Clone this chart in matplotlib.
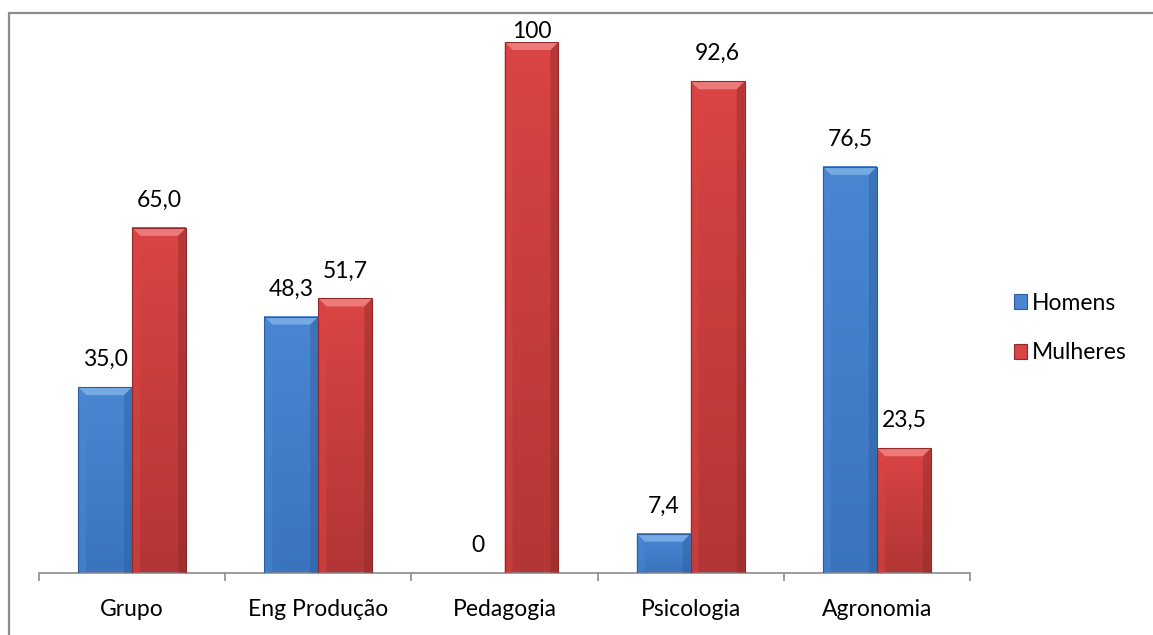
import matplotlib
matplotlib.use('Agg')
import matplotlib.pyplot as plt
from matplotlib.patches import Rectangle, Polygon, Patch
from matplotlib.colors import LinearSegmentedColormap
import numpy as np

plt.rcParams['font.family'] = ['Lato', 'DejaVu Sans']

cursos = ['Grupo', 'Eng Produção', 'Pedagogia', 'Psicologia', 'Agronomia']
homens = [35.0, 48.3, 0, 7.4, 76.5]
mulheres = [65.0, 51.7, 100, 92.6, 23.5]
series_names = ['Homens', 'Mulheres']

# (top / light, bottom / dark, bevel light, bevel dark)
palette = {
    'Homens': ('#4A86D2', '#3A74BE', '#80B0E8', '#2C5E9E'),
    'Mulheres': ('#DA4444', '#B23635', '#F08482', '#8E2A29'),
}

W, H = 1153, 635
fig = plt.figure(figsize=(W / 100, H / 100), dpi=100)
fig.patch.set_facecolor('white')
ax = fig.add_axes([39 / W, 1 - 573 / H, (970 - 39) / W, (573 - 42) / H])
ax.set_xlim(-0.5, len(cursos) - 0.5)
ax.set_ylim(0, 100)
ax.patch.set_alpha(0)

bar_w = 0.29
px_x = (970 - 39) / len(cursos)      # pixels per category
px_y = (573 - 42) / 100              # pixels per unit
bev = 8                               # bevel size in pixels
fs = 16.5


def fmt(v):
    if float(v).is_integer() and v in (0, 100):
        return f'{int(v)}'
    return f'{v:.1f}'.replace('.', ',')


def draw_bar(x0, v, colors):
    if v <= 0:
        return
    top, bot, light, dark = colors
    x1 = x0 + bar_w
    cmap = LinearSegmentedColormap.from_list('g', [bot, top])
    grad = np.linspace(0, 1, 64).reshape(-1, 1)
    ax.imshow(grad, extent=(x0, x1, 0, v), origin='lower', cmap=cmap,
              aspect='auto', zorder=2, interpolation='bicubic')
    bx = bev / px_x
    by = min(bev / px_y, v / 2)
    # bevelled edges
    ax.add_patch(Polygon([(x0, v), (x1, v), (x1 - bx, v - by), (x0 + bx, v - by)],
                         closed=True, color=light, alpha=0.85, lw=0, zorder=3))
    ax.add_patch(Polygon([(x0, 0), (x0, v), (x0 + bx, v - by), (x0 + bx, 0)],
                         closed=True, color=top, alpha=0.5, lw=0, zorder=3))
    ax.add_patch(Polygon([(x1, 0), (x1, v), (x1 - bx, v - by), (x1 - bx, 0)],
                         closed=True, color=dark, alpha=0.45, lw=0, zorder=3))
    ax.add_patch(Rectangle((x0, 0), bar_w, v, fill=False, ec=dark, lw=0.8, zorder=4))


x = np.arange(len(cursos))
for i, (name, vals) in enumerate(zip(series_names, [homens, mulheres])):
    offs = (i - 0.5) * bar_w
    for xi, v in zip(x, vals):
        x0 = xi + offs - bar_w / 2
        draw_bar(x0, v, palette[name])
        # value label kept inside the plot area
        ly = min(v + 17 / px_y, 100)
        ax.text(xi + offs, ly, fmt(v), ha='center', va='bottom',
                fontsize=fs, color='black', zorder=5)

# axes styling
for side in ['top', 'right', 'left']:
    ax.spines[side].set_visible(False)
ax.spines['bottom'].set_color('#8C8C8C')
ax.spines['bottom'].set_linewidth(1.2)
ax.set_yticks([])
ax.set_xticks(x)
ax.set_xticklabels(cursos, fontsize=fs)
ax.tick_params(axis='x', which='major', length=0, pad=19)
ax.set_xticks(np.arange(-0.5, len(cursos)), minor=True)
ax.tick_params(axis='x', which='minor', length=6, width=1.2, color='#8C8C8C',
               direction='out')

# legend
handles = [Patch(facecolor=palette[n][0], edgecolor=palette[n][3], lw=0.8)
           for n in series_names]
leg = fig.legend(handles, series_names, loc='center left',
                 bbox_to_anchor=(993 / W, 1 - 328 / H), frameon=False,
                 fontsize=fs, handlelength=0.6, handleheight=0.6,
                 handletextpad=0.2, labelspacing=1.25)

# outer chart frame
fig.patches.append(Rectangle((9 / W, -0.1), 1.2, 1.1 - 13 / H, transform=fig.transFigure,
                             fill=False, ec='#8C8C8C', lw=1.6, zorder=0))

fig.savefig('out.png', dpi=100, facecolor='white')
